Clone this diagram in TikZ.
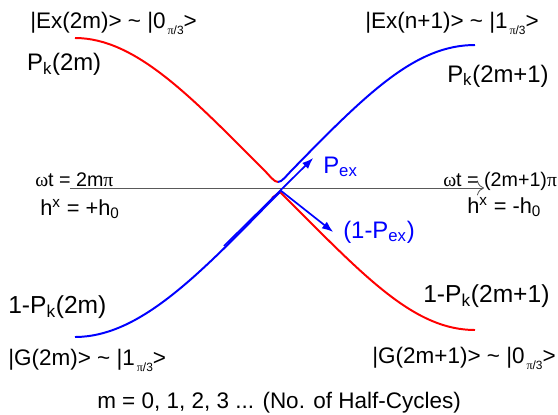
\documentclass[tikz,border=0pt]{standalone}
\usepackage{fontspec}
\usetikzlibrary{arrows.meta}
\setmainfont{Liberation Sans}
\newfontfamily\grk{Liberation Serif}
\newcommand{\half}{\raisebox{-0.55ex}{\fontsize{8.5}{9}\selectfont\,{\grk π}/3}}
\begin{document}
\begin{tikzpicture}[>={Latex[length=8pt,width=6pt]},
  lbl/.style={inner sep=0pt, anchor=base west, font=\fontsize{16}{18}\selectfont},
  big/.style={lbl, font=\fontsize{17}{19}\selectfont},
  eq/.style={lbl, font=\fontsize{14}{16}\selectfont},
  branch/.style={line width=1.4pt}]
  \useasboundingbox (-7,-5.65) rectangle (6.95,4.7);

  % Time axis
  \coordinate (tl) at (-5.25,0);
  \coordinate (tr) at (5.1,0);
  \draw[-{To[length=5pt]}, gray!70!black, line width=0.6pt] (tl) -- (tr);

  % Upper branch: red descends, turns blue at the gap
  \draw[branch, red]
    (-5.125,3.75) .. controls (-3.6,3.75) and (-2.2,2.25) .. (-0.4,0.45)
    .. controls (-0.25,0.3) and (-0.15,0.15) .. (-0.05,0.15);
  \draw[branch, blue]
    (-0.05,0.15) .. controls (0.05,0.15) and (0.15,0.3) .. (0.3,0.45)
    .. controls (2.2,2.4) and (3.4,3.575) .. (4.875,3.575);

  % Lower branch: blue ascends, turns red at the crossing
  \draw[branch, red]
    (-0.2,-0.25) -- (0,-0.1) -- (0.35,-0.45)
    .. controls (2.2,-2.3) and (3.4,-3.55) .. (4.875,-3.55);
  \draw[branch, blue]
    (-5.125,-3.725) .. controls (-3.6,-3.72) and (-2.2,-2.35) .. (-0.35,-0.45)
    -- (0,-0.1);

  % Transition probabilities
  \coordinate (x0) at (0,-0.05);
  \coordinate (xin) at (-1.4,-1.45);
  \coordinate (xup) at (0.83,0.75);
  \coordinate (xdn) at (1.33,-1.1);
  \draw[->, blue, line width=1.2pt] (xin) -- (xup);
  \draw[->, blue, line width=1.2pt] (x0) -- (xdn);

  % Labels
  \node[lbl] (ex2m) at (-6.25,4.0) {|Ex(2m)> \textasciitilde\ |0\half>};
  \node[lbl] (exn1) at (2.125,4.0) {|Ex(n+1)> \textasciitilde\ |1\half>};
  \node[big] (pk2m) at (-6.33,2.93) {P\textsubscript{k}(2m)};
  \node[big] (pk2m1) at (4.175,2.65) {P\textsubscript{k}(2m+1)};
  \node[eq] (wt1) at (-6.125,0.03) {{\grk ω}t = 2m{\grk π}};
  \node[eq, font=\fontsize{15.5}{17}\selectfont] (hx1) at (-6.0,-0.675) {h\textsuperscript{x} = +h\textsubscript{0}};
  \node[eq] (wt2) at (4.075,0.05) {{\grk ω}t = (2m+1){\grk π}};
  \node[eq, font=\fontsize{15.5}{17}\selectfont] (hx2) at (4.675,-0.625) {h\textsuperscript{x} = -h\textsubscript{0}};
  \node[big, text=blue] (pex) at (1.075,0.375) {P\textsubscript{ex}};
  \node[big, text=blue] (qex) at (1.575,-1.25) {(1-P\textsubscript{ex})};
  \node[big, font=\fontsize{17.5}{19}\selectfont] (qk2m) at (-6.8,-3.125) {1-P\textsubscript{k}(2m)};
  \node[big, font=\fontsize{17.5}{19}\selectfont] (qk2m1) at (3.575,-2.85) {1-P\textsubscript{k}(2m+1)};
  \node[lbl] (g2m) at (-6.8,-4.425) {|G(2m)> \textasciitilde\ |1\half>};
  \node[lbl] (g2m1) at (2.3,-4.375) {|G(2m+1)> \textasciitilde\ |0\half>};
  \node[lbl] (mnote) at (-4.575,-5.5) {m = 0, 1, 2, 3 ... (No. of Half-Cycles)};
\end{tikzpicture}
\end{document}
